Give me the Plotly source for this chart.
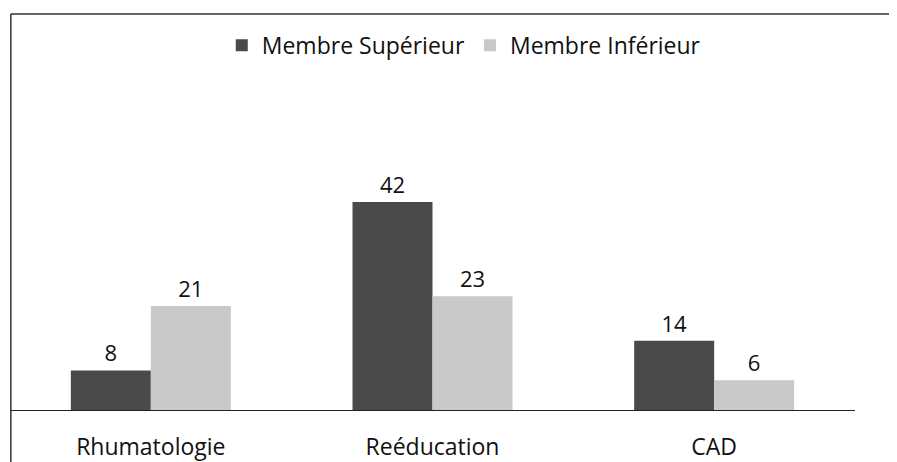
import plotly.graph_objects as go

categories = ["Rhumatologie", "Reéducation", "CAD"]
membre_superieur = [8, 42, 14]
membre_inferieur = [21, 23, 6]

FONT = "Open Sans"

fig = go.Figure()

fig.add_trace(go.Bar(
    x=categories, y=membre_superieur, name="Membre Supérieur",
    marker=dict(color="#4a4a4a", line=dict(width=0)),
    text=membre_superieur, textposition="outside",
    textfont=dict(size=22, color="#111111", family=FONT),
    cliponaxis=False,
))
fig.add_trace(go.Bar(
    x=categories, y=membre_inferieur, name="Membre Inférieur",
    marker=dict(color="#c9c9c9", line=dict(width=0)),
    text=membre_inferieur, textposition="outside",
    textfont=dict(size=22, color="#111111", family=FONT),
    cliponaxis=False,
))

fig.update_layout(
    width=889, height=454,
    margin=dict(l=2, r=42, t=6, b=52),
    paper_bgcolor="white", plot_bgcolor="white",
    barmode="group", bargap=0.432, bargroupgap=0,
    font=dict(family=FONT, size=23, color="#111111"),
    showlegend=True,
    legend=dict(orientation="h", x=0.537, xanchor="center", y=0.975, yanchor="top",
                font=dict(size=23, family=FONT), itemwidth=30,
                bgcolor="rgba(0,0,0,0)"),
    xaxis=dict(showline=True, linecolor="#222222", linewidth=1, ticks="",
               showgrid=False, tickfont=dict(size=23, family=FONT),
               ticklabelstandoff=16, automargin=False),
    yaxis=dict(visible=False, range=[0, 80]),
    shapes=[
        dict(type="line", xref="paper", yref="paper", x0=0.001, x1=1.1, y0=1, y1=1,
             line=dict(color="#333333", width=1.5)),
        dict(type="line", xref="paper", yref="paper", x0=0.001, x1=0.001, y0=1, y1=-0.2,
             line=dict(color="#333333", width=1.5)),
    ],
)

fig.write_html("out.html")
